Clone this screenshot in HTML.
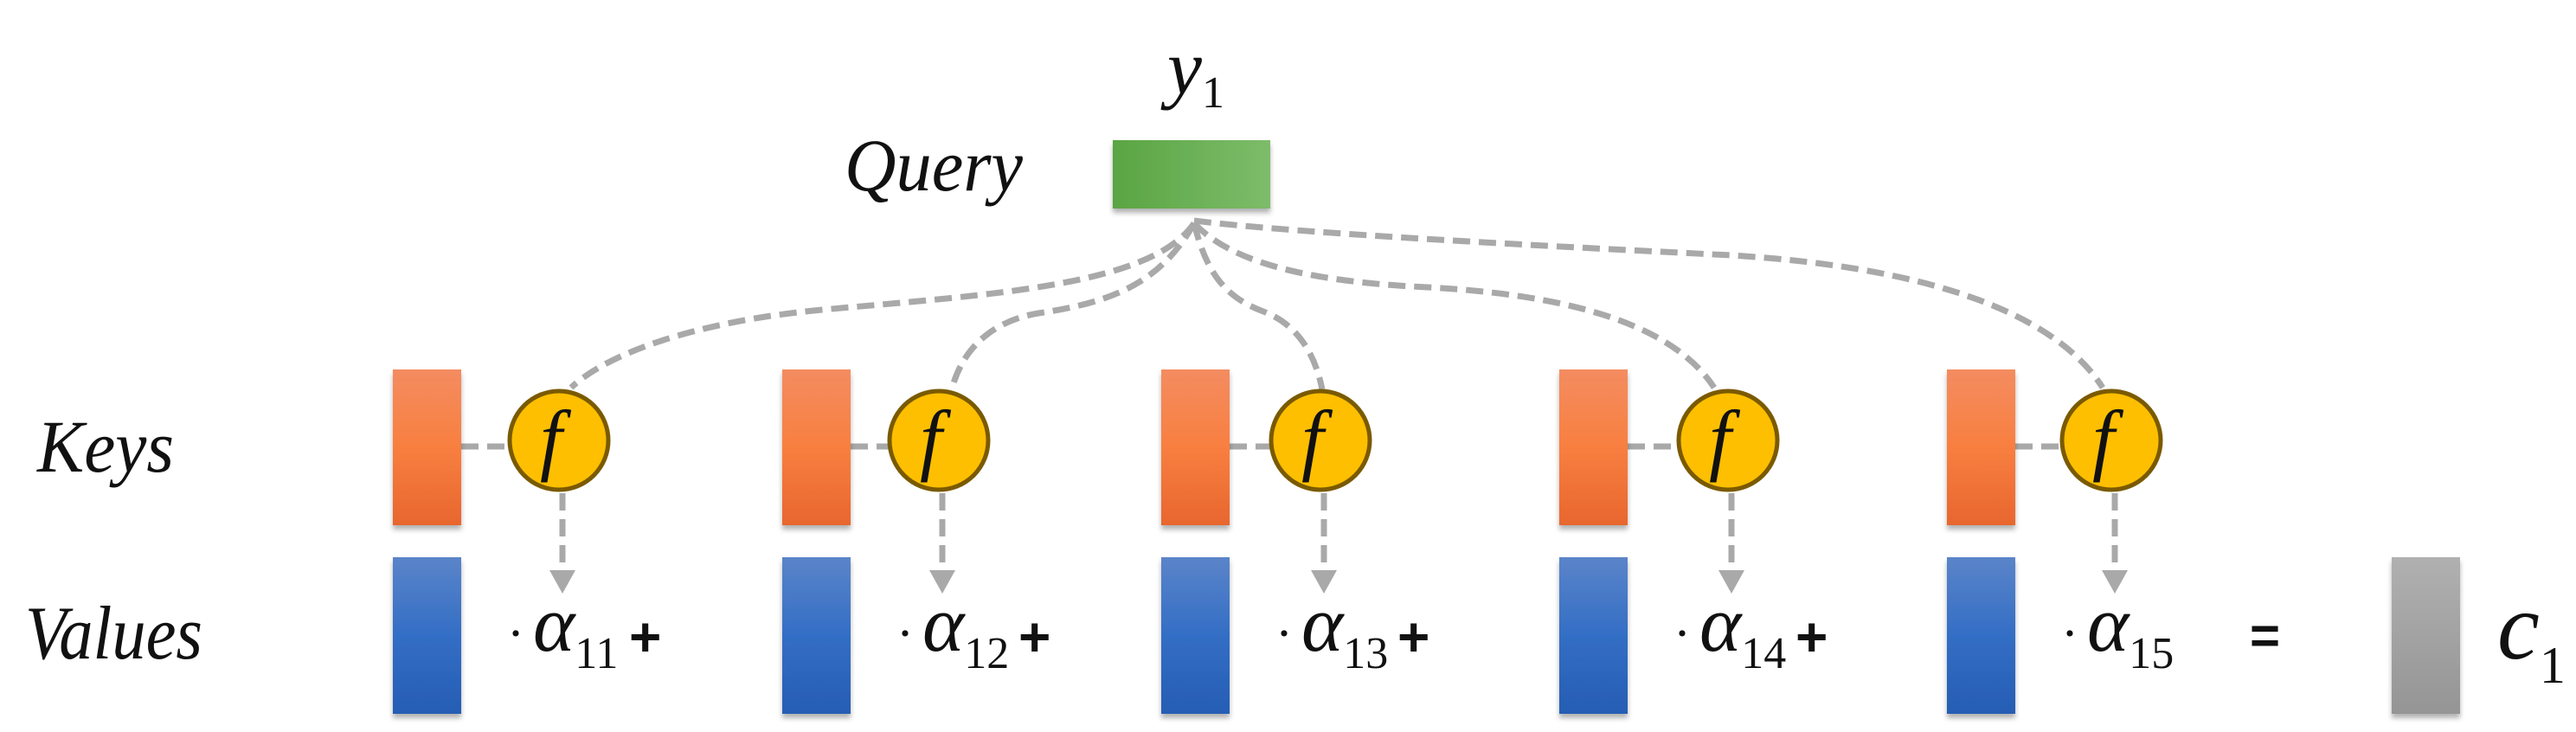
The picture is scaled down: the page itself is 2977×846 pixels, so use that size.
<!DOCTYPE html>
<html><head><meta charset="utf-8"><style>
html,body{margin:0;padding:0;background:#fff;width:2977px;height:846px;overflow:hidden}
svg{display:block}
.dash{fill:none;stroke:#a9a9a9;stroke-width:7;stroke-dasharray:20 10}
</style></head><body>
<svg width="2977" height="846" viewBox="0 0 2977 846">
<defs>
<linearGradient id="gOr" x1="0" y1="0" x2="0" y2="1"><stop offset="0" stop-color="#f48c60"/><stop offset="0.5" stop-color="#f87f40"/><stop offset="1" stop-color="#e8662e"/></linearGradient>
<linearGradient id="gBl" x1="0" y1="0" x2="0" y2="1"><stop offset="0" stop-color="#5b84c9"/><stop offset="0.5" stop-color="#336ec5"/><stop offset="1" stop-color="#265db4"/></linearGradient>
<linearGradient id="gGr" x1="0" y1="0" x2="0" y2="1"><stop offset="0" stop-color="#b0b0b0"/><stop offset="1" stop-color="#959595"/></linearGradient>
<linearGradient id="gGn" x1="0" y1="0" x2="1" y2="0"><stop offset="0" stop-color="#5aa543"/><stop offset="1" stop-color="#7dbc6a"/></linearGradient>
<filter id="sh" x="-20%" y="-20%" width="140%" height="140%"><feDropShadow dx="0" dy="5" stdDeviation="3" flood-color="#000" flood-opacity="0.3"/></filter>
</defs>

<text x="1349" y="108" font-size="90" fill="#111" style="font-family:'Liberation Serif','DejaVu Serif',serif;font-style:italic">y<tspan font-size="52" style="font-style:normal" dy="16">1</tspan></text>
<text x="976" y="220" font-size="86" fill="#111" style="font-family:'Liberation Serif','DejaVu Serif',serif;font-style:italic" textLength="206" lengthAdjust="spacingAndGlyphs">Query</text>
<rect x="1286" y="162" width="182" height="79" fill="url(#gGn)" filter="url(#sh)"/>

<g>
<path class="dash" d="M1380,258 C1330,330 1150,340 950,358 C800,372 700,410 660,448"/>
<path class="dash" d="M1380,258 C1340,330 1280,350 1200,362 C1140,372 1110,410 1100,450"/>
<path class="dash" d="M1380,258 C1395,320 1420,345 1460,360 C1500,375 1520,410 1528,450"/>
<path class="dash" d="M1380,258 C1420,300 1500,325 1650,332 C1800,340 1930,370 1981,448"/>
<path class="dash" d="M1380,255 C1500,270 1800,285 2000,295 C2250,310 2380,370 2430,448"/>
</g>

<text x="43" y="545" font-size="86" fill="#111" style="font-family:'Liberation Serif','DejaVu Serif',serif;font-style:italic" textLength="158" lengthAdjust="spacingAndGlyphs">Keys</text>
<text x="29" y="761" font-size="88" fill="#111" style="font-family:'Liberation Serif','DejaVu Serif',serif;font-style:italic" textLength="205" lengthAdjust="spacingAndGlyphs">Values</text>

<g id="cols"></g>

<text x="2600" y="755" font-size="60" fill="#111" style="font-family:'Liberation Sans','DejaVu Sans',sans-serif;font-weight:bold">=</text>
<rect x="2764" y="644" width="79" height="181" fill="url(#gGr)" filter="url(#sh)"/>
<text x="2886" y="761" font-size="110" fill="#111" style="font-family:'Liberation Serif','DejaVu Serif',serif;font-style:italic">c<tspan font-size="60" style="font-style:normal" dy="28">1</tspan></text>
</svg>
<script>
const keyX=[454,904,1342,1802,2250];
const circX=[646,1085,1526,1997,2440];
const subs=['11','12','13','14','15'];
const NS='http://www.w3.org/2000/svg';
const g=document.getElementById('cols');
function mk(t,a){const e=document.createElementNS(NS,t);for(const k in a)e.setAttribute(k,a[k]);g.appendChild(e);return e;}
const serif="font-family:'Liberation Serif','DejaVu Serif',serif;font-style:italic";
keyX.forEach((x,i)=>{
  const cx=circX[i];
  const c1=mk('path',{d:`M${x+79},516 L${cx-58},516`,class:'dash'});
  
  
  const k=mk('rect',{x:x,y:427,width:79,height:180,fill:'url(#gOr)',filter:'url(#sh)'});
  
  
  const v=mk('rect',{x:x,y:644,width:79,height:181,fill:'url(#gBl)',filter:'url(#sh)'});
  
  
  const dl=mk('path',{d:`M${cx+4},570 L${cx+4},660`,class:'dash'});
  
  
  const ah=mk('polygon',{points:`${cx-11},659 ${cx+19},659 ${cx+4},686`,fill:'#a9a9a9'});
  
  
  const c=mk('ellipse',{cx:cx,cy:509,rx:57,ry:57,fill:'#fdbf00',stroke:'#7a5a00','stroke-width':5});
  
  
  const f=mk('text',{x:cx-22,y:538,'font-size':92,fill:'#111',style:serif});
  f.textContent='f';
  
  
  const t=mk('text',{x:x+132,y:752,'font-size':92,fill:'#111',style:serif});
  t.innerHTML=`<tspan style="font-style:normal" font-size="60">·</tspan><tspan dx="10">α</tspan><tspan style="font-style:normal" font-size="52" dy="20">${subs[i]}</tspan>`;
  
  
  if(i<4){
    const p=mk('text',{x:x+273,y:758,'font-size':64,fill:'#111',style:"font-family:'Liberation Sans','DejaVu Sans',sans-serif;font-weight:bold"});
    p.textContent='+';
    
    
  }
});
</script>
</body></html>
